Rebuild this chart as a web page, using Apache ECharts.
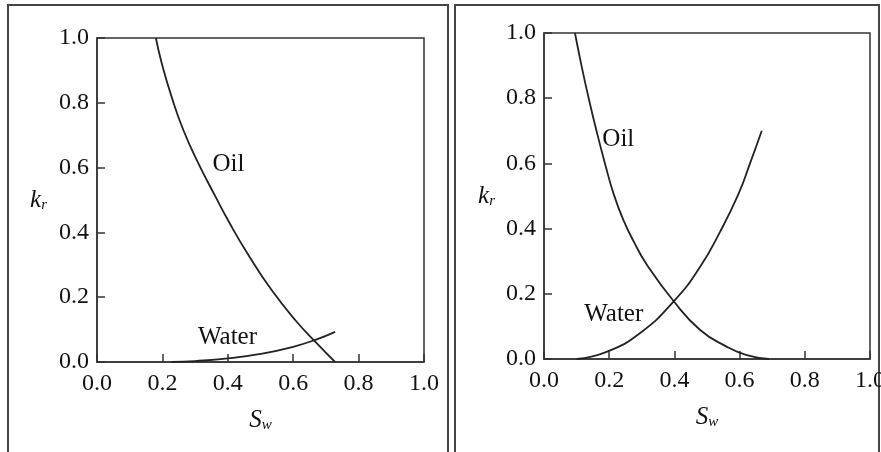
<!DOCTYPE html>
<html>
<head>
<meta charset="utf-8">
<script src="https://cdn.jsdelivr.net/npm/echarts@6/dist/echarts.min.js"></script>
<style>
  html, body { margin: 0; padding: 0; background: #fff; }
  #main { width: 881px; height: 452px; }
</style>
</head>
<body>
<div id="main"></div>
<script>
// tick labels on both axes
var ticks = [0, 0.2, 0.4, 0.6, 0.8, 1.0];

// left panel: [Sw, kr]
var oilLeft = [[0.180, 1.0], [0.198, 0.922], [0.228, 0.819], [0.264, 0.716], [0.310, 0.613],
  [0.360, 0.515], [0.402, 0.435], [0.463, 0.330], [0.534, 0.222], [0.610, 0.125],
  [0.668, 0.062], [0.728, 0]];
var waterLeft = [[0.228, 0], [0.300, 0.003], [0.400, 0.011], [0.500, 0.025], [0.600, 0.047],
  [0.672, 0.070], [0.728, 0.093]];

// right panel: [Sw, kr]
var oilRight = [[0.095, 1.0], [0.115, 0.900], [0.137, 0.800], [0.161, 0.700], [0.187, 0.600],
  [0.214, 0.505], [0.244, 0.425], [0.277, 0.357], [0.315, 0.290], [0.398, 0.177], [0.479, 0.089],
  [0.560, 0.038], [0.622, 0.012], [0.690, 0]];
var waterRight = [[0.100, 0], [0.192, 0.022], [0.294, 0.079], [0.398, 0.177], [0.479, 0.283],
  [0.540, 0.390], [0.596, 0.505], [0.632, 0.600], [0.668, 0.700]];

// curve names written on the plots: [Sw, kr, text]
var notesLeft = [[0.402, 0.611, 'Oil'], [0.399, 0.076, 'Water']];
var notesRight = [[0.228, 0.674, 'Oil'], [0.214, 0.137, 'Water']];

var serif = "'Liberation Serif', 'Times New Roman', serif";
var ink = '#111';

function xAxisOf(idx, gap) {
  return {
    type: 'value', gridIndex: idx, min: ticks[0], max: ticks[ticks.length - 1], interval: 0.2,
    name: '{s|S}{w|w}', nameLocation: 'middle', nameGap: gap,
    nameTextStyle: {
      rich: {
        s: { fontFamily: serif, fontStyle: 'italic', fontSize: 25, color: ink, lineHeight: 25 },
        w: { fontFamily: serif, fontStyle: 'italic', fontSize: 15, color: ink, lineHeight: 10, verticalAlign: 'bottom' }
      }
    },
    axisLine: { show: true, lineStyle: { color: '#333', width: 1.5 } },
    axisTick: { show: true, inside: true, length: 8, lineStyle: { color: '#333', width: 1.5 } },
    axisLabel: { fontFamily: serif, fontSize: 24, color: ink, margin: 10, formatter: function (v) { return v.toFixed(1); } },
    splitLine: { show: false }
  };
}

function yAxisOf(idx, gap) {
  return {
    type: 'value', gridIndex: idx, min: ticks[0], max: ticks[ticks.length - 1], interval: 0.2,
    name: '{k|k}{r|r}', nameLocation: 'middle', nameGap: gap, nameRotate: 0,
    nameTextStyle: {
      rich: {
        k: { fontFamily: serif, fontStyle: 'italic', fontSize: 25, color: ink, lineHeight: 25 },
        r: { fontFamily: serif, fontStyle: 'italic', fontSize: 15, color: ink, lineHeight: 10, verticalAlign: 'bottom' }
      }
    },
    axisLine: { show: true, lineStyle: { color: '#333', width: 1.5 } },
    axisTick: { show: true, inside: true, length: 8, lineStyle: { color: '#333', width: 1.5 } },
    axisLabel: { fontFamily: serif, fontSize: 24, color: ink, margin: 8, formatter: function (v) { return v.toFixed(1); } },
    splitLine: { show: false }
  };
}

function curve(idx, data) {
  return {
    type: 'line', xAxisIndex: idx, yAxisIndex: idx, data: data,
    smooth: 0.5, showSymbol: false, symbol: 'none',
    lineStyle: { color: '#222', width: 1.8 }
  };
}

function notes(idx, data) {
  return {
    type: 'scatter', xAxisIndex: idx, yAxisIndex: idx, symbolSize: 0, data: data,
    itemStyle: { opacity: 1 },
    label: {
      show: true, position: 'inside', fontFamily: serif, fontSize: 25, color: ink,
      formatter: function (p) { return p.data[2]; }
    }
  };
}

var myChart = echarts.init(document.getElementById('main'));
var option = {
  animation: false,
  backgroundColor: '#fff',
  graphic: [
    { type: 'rect', shape: { x: 8, y: 5, width: 440, height: 470 }, style: { fill: 'none', stroke: '#444', lineWidth: 2 } },
    { type: 'rect', shape: { x: 455, y: 5, width: 424, height: 470 }, style: { fill: 'none', stroke: '#444', lineWidth: 2 } }
  ],
  grid: [
    { left: 97, top: 38, width: 327, height: 324, show: true, borderColor: '#333', borderWidth: 1.5, outerBoundsMode: 'none', containLabel: false },
    { left: 544, top: 33, width: 326, height: 326, show: true, borderColor: '#333', borderWidth: 1.5, outerBoundsMode: 'none', containLabel: false }
  ],
  xAxis: [xAxisOf(0, 46), xAxisOf(1, 46)],
  yAxis: [yAxisOf(0, 50), yAxisOf(1, 49)],
  series: [
    curve(0, oilLeft), curve(0, waterLeft),
    curve(1, oilRight), curve(1, waterRight),
    notes(0, notesLeft), notes(1, notesRight)
  ]
};
myChart.setOption(option);
</script>
</body>
</html>
